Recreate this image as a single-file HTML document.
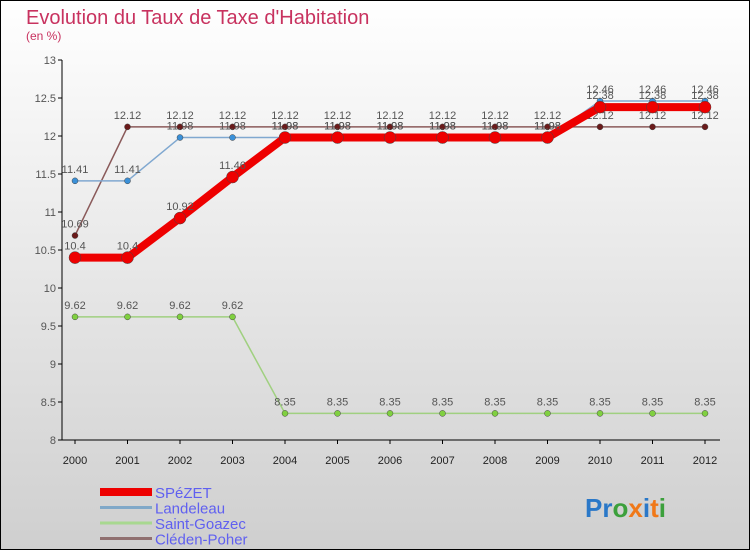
<!DOCTYPE html>
<html><head><meta charset="utf-8"><style>
body{margin:0}
svg text{font-family:"Liberation Sans",sans-serif}
</style></head><body>
<svg id="c" width="750" height="550" xmlns="http://www.w3.org/2000/svg">
<defs><linearGradient id="bg" x1="0" y1="0" x2="0" y2="1"><stop offset="0" stop-color="#ffffff"/><stop offset="1" stop-color="#cfcfcf"/></linearGradient></defs>
<rect x="0.5" y="0.5" width="749" height="549" fill="url(#bg)" stroke="#000"/>
<text x="26" y="24" font-size="20" fill="#c8325f">Evolution du Taux de Taxe d'Habitation</text>
<text x="26" y="40" font-size="12" fill="#c8325f">(en %)</text>
<g id="axes"></g><g id="series"></g><g id="legend"></g>
<text x="585" y="517" font-size="26" font-weight="bold"><tspan fill="#2a78c8">Pr</tspan><tspan fill="#3ca03c">o</tspan><tspan fill="#f07818">x</tspan><tspan fill="#2a78c8">i</tspan><tspan fill="#f07818">t</tspan><tspan fill="#3ca03c">i</tspan></text>
</svg>
<script>
const years=[2000,2001,2002,2003,2004,2005,2006,2007,2008,2009,2010,2011,2012];
const yTicks=[8,8.5,9,9.5,10,10.5,11,11.5,12,12.5,13];
const spezet=[10.4,10.4,10.92,11.46,11.98,11.98,11.98,11.98,11.98,11.98,12.38,12.38,12.38];
const landeleau=[11.41,11.41,11.98,11.98,11.98,11.98,11.98,11.98,11.98,11.98,12.46,12.46,12.46];
const goazec=[9.62,9.62,9.62,9.62,8.35,8.35,8.35,8.35,8.35,8.35,8.35,8.35,8.35];
const cleden=[10.69,12.12,12.12,12.12,12.12,12.12,12.12,12.12,12.12,12.12,12.12,12.12,12.12];
const NS="http://www.w3.org/2000/svg";
const X=i=>75+i*52.5, Y=v=>440-(v-8)*76;
function mk(t,a,p){const e=document.createElementNS(NS,t);for(const k in a)e.setAttribute(k,a[k]);p.appendChild(e);return e;}
const ax=document.getElementById('axes');
let yl=mk('line',{x1:62,y1:60,x2:62,y2:440,stroke:'#000'},ax);


let xl=mk('line',{x1:62,y1:440,x2:720,y2:440,stroke:'#000'},ax);


yTicks.forEach(v=>{
 mk('line',{x1:58,y1:Y(v),x2:62,y2:Y(v),stroke:'#000'},ax);
 const t=mk('text',{x:56,y:Y(v)+4,'font-size':11,fill:'#555','text-anchor':'end'},ax);t.textContent=v;
 
 
});
years.forEach((y,i)=>{
 mk('line',{x1:X(i),y1:440,x2:X(i),y2:444,stroke:'#000'},ax);
 const t=mk('text',{x:X(i),y:464,'font-size':11,fill:'#222','text-anchor':'middle'},ax);t.textContent=y;
 
 
});
const sg=document.getElementById('series');
function draw(vals,color,w,r,dot,name){
 const g=mk('g',{},sg);
 
 
 mk('polyline',{points:vals.map((v,i)=>X(i)+','+Y(v)).join(' '),fill:'none',stroke:color,'stroke-width':w,'stroke-linejoin':'round'},g);
 vals.forEach((v,i)=>{
  const c=mk('circle',{cx:X(i),cy:Y(v),r:r,fill:dot,stroke:'#444','stroke-width':0.5},g);
  
  
  const t=mk('text',{x:X(i),y:Y(v)-8,'font-size':11,fill:'#555','text-anchor':'middle'},g);t.textContent=v;
 });
}
draw(cleden,'#8a5a5a',1.5,3,'#6a1a1a','cleden-poher');
draw(goazec,'#a0d080',1.5,3,'#80d040','saint-goazec');
draw(landeleau,'#80a8d0',1.5,3,'#3a90d8','landeleau');
draw(spezet,'#ee0000',8,6,'#ee0000','spezet');
const lg=document.getElementById('legend');
[['SPéZET','#ee0000',8,'spezet'],['Landeleau','#80a8c8',3,'landeleau'],['Saint-Goazec','#a8d890',3,'saint-goazec'],['Cléden-Poher','#907070',3,'cleden-poher']].forEach((s,i)=>{
 const y=492+i*15.5;
 const g=mk('g',{},lg);
 
 
 mk('line',{x1:100,y1:y,x2:152,y2:y,stroke:s[1],'stroke-width':s[2]},g);
 const t=mk('text',{x:155,y:y+6,'font-size':15,fill:'#6060f0'},g);t.textContent=s[0];
});
</script>
</body></html>
